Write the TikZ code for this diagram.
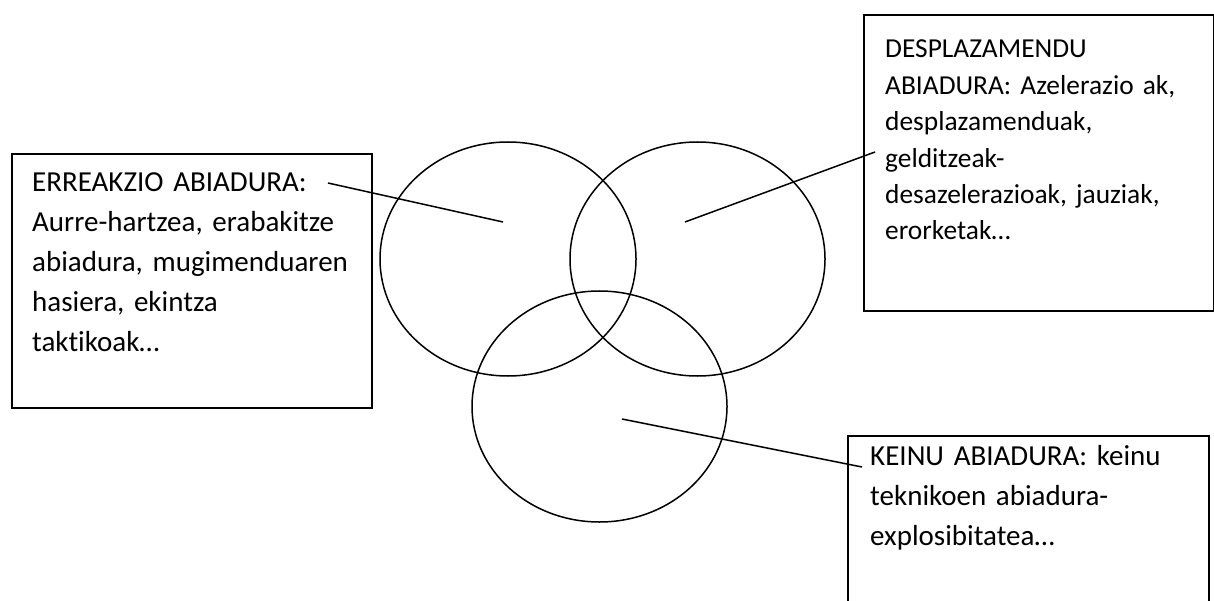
\documentclass[tikz,border=0pt]{standalone}
\usepackage{fontspec}
\setmainfont{Carlito}[Ligatures=NoCommon, WordSpace=0.65]
\usetikzlibrary{shapes.geometric}
\begin{document}
\begin{tikzpicture}[x=1pt,y=-1pt,
  boxframe/.style={draw, line width=1.8pt, rectangle, inner sep=0pt, anchor=north west},
  venn/.style={draw, ellipse, line width=1.5pt, inner sep=0pt},
  link/.style={line width=1.5pt},
  bigtext/.style={anchor=base west, inner sep=0pt, align=left, text width=340pt,
    font={\fontsize{29}{40}\selectfont}},
  smalltext/.style={anchor=base west, inner sep=0pt, align=left, text width=330pt,
    font={\fontsize{27.4}{36.4}\selectfont}}]
\useasboundingbox[fill=white] (0,0) rectangle (1214,601);
% boxes
\node[boxframe, minimum width=360pt, minimum height=254pt] (lbox) at (11,153) {};
\node[boxframe, minimum width=350pt, minimum height=296pt] (rbox) at (863,14) {};
\node[boxframe, minimum width=361pt, minimum height=200pt] (bbox) at (847,435) {};
% ellipses
\node[venn, minimum width=256pt, minimum height=234pt] (e1) at (508,259) {};
\node[venn, minimum width=255pt, minimum height=234pt] (e2) at (697.5,259) {};
\node[venn, minimum width=255pt, minimum height=231pt] (e3) at (599.5,406.5) {};
% texts
\node[bigtext] (ltext) at (32,192) {ERREAKZIO ABIADURA:\\Aurre-hartzea, erabakitze\\abiadura, mugimenduaren\\hasiera, ekintza\\taktikoak…};
\node[smalltext] (rtext) at (885,58) {DESPLAZAMENDU\\ABIADURA: Azelerazio ak,\\desplazamenduak,\\gelditzeak-\\desazelerazioak, jauziak,\\erorketak…};
\node[bigtext] (btext) at (870,465) {KEINU ABIADURA: keinu\\teknikoen abiadura-\\explosibitatea…};
% connector end points
\coordinate (l1a) at (328,183);
\coordinate (l1b) at (503,222);
\coordinate (l2a) at (685,222);
\coordinate (l2b) at (875,152);
\coordinate (l3a) at (622,419);
\coordinate (l3b) at (862,467);
\draw[link] (l1a) -- (l1b);
\draw[link] (l2a) -- (l2b);
\draw[link] (l3a) -- (l3b);
\end{tikzpicture}
\end{document}
